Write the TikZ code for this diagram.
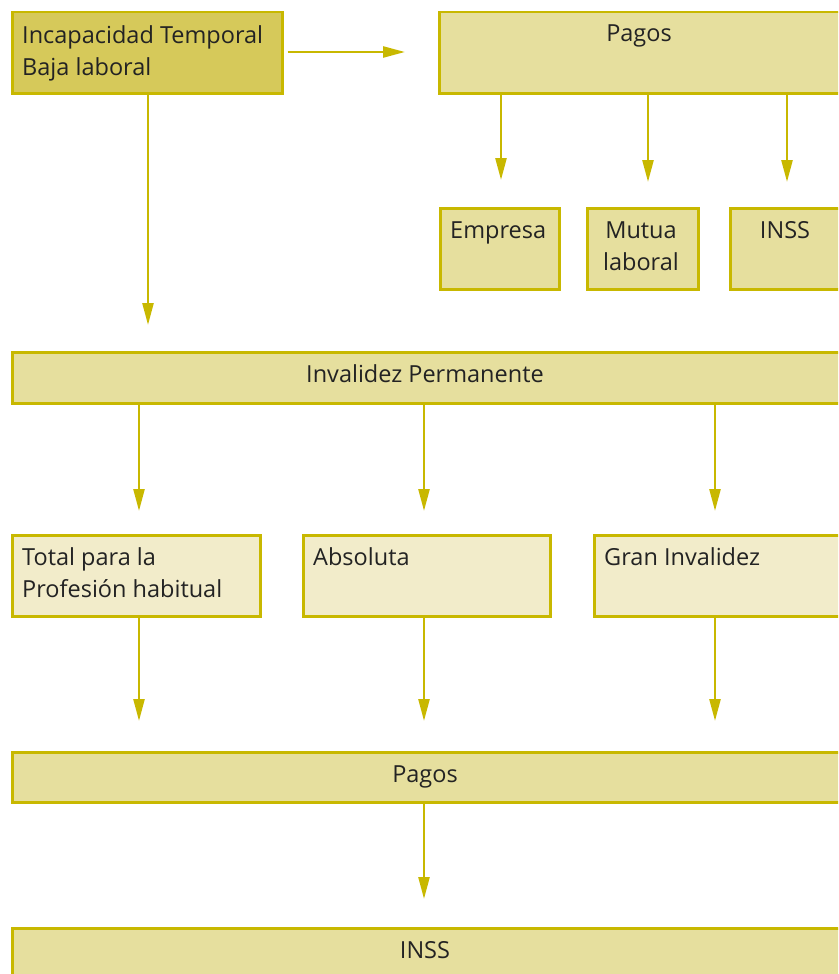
\documentclass[tikz,border=0pt]{standalone}
\usepackage{fontspec}
\setmainfont{Open Sans}
\usetikzlibrary{arrows.meta}
\definecolor{bord}{RGB}{200,184,0}
\definecolor{fdark}{RGB}{214,201,90}
\definecolor{fmid}{RGB}{230,223,158}
\definecolor{flight}{RGB}{242,236,202}
\definecolor{txt}{RGB}{35,35,35}
\tikzset{
  box/.style={draw=bord, line width=2.5pt, rectangle, inner sep=0pt, anchor=north west},
  lbl/.style={font=\fontsize{23.5}{32}\selectfont, text=txt, inner sep=0pt},
  arr/.style={draw=bord, line width=2.5pt, -{Triangle[length=22pt,width=11pt]}, shorten >=0pt},
}
\begin{document}
\begin{tikzpicture}[x=1pt,y=-1pt]
\useasboundingbox (0,0) rectangle (838,974);
\clip (0,0) rectangle (838,974);
% boxes
\node[box, fill=fdark, minimum width=270pt, minimum height=81pt] (it) at (11,11) {};
\node[box, fill=fmid, minimum width=420pt, minimum height=81pt] (pag1) at (438,11) {};
\node[box, fill=fmid, minimum width=119pt, minimum height=81pt] (emp) at (439,207) {};
\node[box, fill=fmid, minimum width=111pt, minimum height=81pt] (mut) at (586,207) {};
\node[box, fill=fmid, minimum width=130pt, minimum height=81pt] (inss1) at (729,207) {};
\node[box, fill=fmid, minimum width=847pt, minimum height=51pt] (inv) at (11,351) {};
\node[box, fill=flight, minimum width=248pt, minimum height=81pt] (tot) at (11,534) {};
\node[box, fill=flight, minimum width=247pt, minimum height=81pt] (abs) at (302,534) {};
\node[box, fill=flight, minimum width=265pt, minimum height=81pt] (gran) at (593,534) {};
\node[box, fill=fmid, minimum width=847pt, minimum height=50pt] (pag2) at (11,751) {};
\node[box, fill=fmid, minimum width=847pt, minimum height=70pt] (inss2) at (11,927) {};
% texts (base anchor = last line's baseline)
\node[lbl, anchor=base west, align=left] (t-it) at (22,75) {Incapacidad Temporal\\Baja laboral};
\node[lbl, anchor=base] (t-pag1) at (639,42) {Pagos};
\node[lbl, anchor=base west] (t-emp) at (450,238) {Empresa};
\node[lbl, anchor=base, align=center] (t-mut) at (641,270) {Mutua\\laboral};
\node[lbl, anchor=base] (t-inss1) at (785,238) {INSS};
\node[lbl, anchor=base] (t-inv) at (425,382) {Invalidez Permanente};
\node[lbl, anchor=base west, align=left] (t-tot) at (22,597) {Total para la\\Profesión habitual};
\node[lbl, anchor=base west] (t-abs) at (313,565) {Absoluta};
\node[lbl, anchor=base west] (t-gran) at (604,565) {Gran Invalidez};
\node[lbl, anchor=base] (t-pag2) at (425,782) {Pagos};
\node[lbl, anchor=base] (t-inss2) at (425,958) {INSS};
% free arrow ends
\coordinate (e0) at (405,52);
\coordinate (e1) at (501,180);
\coordinate (e2) at (648,182);
\coordinate (e3) at (787,182);
\coordinate (e4) at (148,325);
\coordinate (e5) at (139,511);
\coordinate (e6) at (424,511);
\coordinate (e7) at (715,511);
\coordinate (e8) at (139,721);
\coordinate (e9) at (424,721);
\coordinate (e10) at (715,721);
\coordinate (e11) at (424,899);
% arrows
\draw[arr] (it.east |- e0) ++(4,0) -- (e0);
\draw[arr] (pag1.south -| e1) -- (e1);
\draw[arr] (pag1.south -| e2) -- (e2);
\draw[arr] (pag1.south -| e3) -- (e3);
\draw[arr] (it.south -| e4) -- (e4);
\draw[arr] (inv.south -| e5) -- (e5);
\draw[arr] (inv.south -| e6) -- (e6);
\draw[arr] (inv.south -| e7) -- (e7);
\draw[arr] (tot.south -| e8) -- (e8);
\draw[arr] (abs.south -| e9) -- (e9);
\draw[arr] (gran.south -| e10) -- (e10);
\draw[arr] (pag2.south -| e11) -- (e11);
\end{tikzpicture}
\end{document}
